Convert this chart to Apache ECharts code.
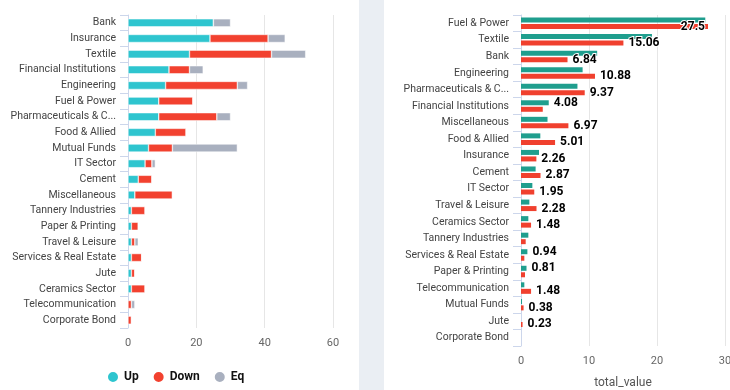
<!DOCTYPE html>
<html><head><meta charset="utf-8">
<script src="https://cdn.jsdelivr.net/npm/echarts@6/dist/echarts.min.js"></script>
<style>html,body{margin:0;padding:0;background:#fff}#c{width:730px;height:390px}</style>
</head><body><div id="c"></div>
<script>
// Left chart: count of Up / Down / Eq by sector
var leftCategories = ['Bank','Insurance','Textile','Financial Institutions','Engineering','Fuel & Power','Pharmaceuticals & Chemicals','Food & Allied','Mutual Funds','IT Sector','Cement','Miscellaneous','Tannery Industries','Paper & Printing','Travel & Leisure','Services & Real Estate','Jute','Ceramics Sector','Telecommunication','Corporate Bond'];
var upValues   = [25,24,18,12,11,9,9,8,6,5,3,2,1,1,1,1,1,1,0,0];
var downValues = [0,17,24,6,21,10,17,9,7,2,4,11,4,2,1,3,1,4,1,1];
var eqValues   = [5,5,10,4,3,0,4,0,19,1,0,0,0,0,1,0,0,0,1,0];
var leftTicks = [0,20,40,60];

// Right chart: total_value by sector
var rightCategories = ['Fuel & Power','Textile','Bank','Engineering','Pharmaceuticals & Chemicals','Financial Institutions','Miscellaneous','Food & Allied','Insurance','Cement','IT Sector','Travel & Leisure','Ceramics Sector','Tannery Industries','Services & Real Estate','Paper & Printing','Telecommunication','Mutual Funds','Jute','Corporate Bond'];
var tealValues = [27.1,19.26,11.2,9.06,8.3,4.08,3.9,2.84,2.65,2.15,1.67,1.23,1.08,1.08,0.94,0.81,0.49,0.15,0,0];
var redValues  = [27.5,15.06,6.84,10.88,9.37,3.2,6.97,5.01,2.26,2.87,1.95,2.28,1.48,0.69,0.49,0.59,1.48,0.38,0.23,0];
var tealLabelled = ['Financial Institutions','Services & Real Estate','Paper & Printing'];
var redUnlabelled = ['Financial Institutions','Tannery Industries','Services & Real Estate','Paper & Printing','Corporate Bond'];
var redInsideLabel = ['Fuel & Power'];
var rightTicks = [0,10,20,30];

var FONT = 'Roboto';
function trunc(v){ return v.length > 22 ? v.slice(0,19) + '...' : v; }

var labelBase = {fontFamily: FONT, fontSize: 12, fontWeight: 'bold', color: '#000', textBorderColor: '#fff', textBorderWidth: 2, distance: 5};

var tealData = tealValues.map(function(v,i){
  var show = tealLabelled.indexOf(rightCategories[i]) >= 0;
  return {value: v, label: {show: show}};
});
var redData = redValues.map(function(v,i){
  var c = rightCategories[i];
  var show = redUnlabelled.indexOf(c) < 0;
  var o = {value: v, label: {show: show}};
  if (redInsideLabel.indexOf(c) >= 0) { o.label.position = 'insideRight'; o.label.distance = 3; }
  return o;
});

var catAxisCommon = {
  type: 'category', inverse: true,
  axisLine: {show: true, lineStyle: {color: '#ccd6eb'}},
  axisTick: {show: true, length: 8, lineStyle: {color: '#ccd6eb'}},
  axisLabel: {fontFamily: FONT, fontSize: 10.5, color: '#444', margin: 12, formatter: trunc}
};
var valAxisCommon = {
  type: 'value',
  axisLine: {show: false}, axisTick: {show: false},
  splitLine: {lineStyle: {color: '#e6e6e6'}},
  axisLabel: {fontFamily: FONT, fontSize: 11, color: '#666', margin: 10}
};

var chart = echarts.init(document.getElementById('c'), null, {renderer: 'canvas'});
chart.setOption({
  animation: false,
  backgroundColor: '#fff',
  graphic: [{type: 'rect', shape: {x: 359, y: 0, width: 25, height: 390}, style: {fill: '#eaeef3'}, z: -1}],
  legend: {
    data: ['Up','Down','Eq'], left: 101, top: 365, icon: 'circle', itemWidth: 12, itemHeight: 12, itemGap: 13,
    textStyle: {fontFamily: FONT, fontSize: 12, fontWeight: 'bold', color: '#111'}
  },
  grid: [
    {left: 128, width: 205, top: 15, height: 313, outerBoundsMode: 'none', containLabel: false},
    {left: 521, width: 204, top: 15, height: 331, outerBoundsMode: 'none', containLabel: false}
  ],
  xAxis: [
    Object.assign({}, valAxisCommon, {gridIndex: 0, min: leftTicks[0], max: leftTicks[leftTicks.length-1], interval: 20}),
    Object.assign({}, valAxisCommon, {gridIndex: 1, min: rightTicks[0], max: rightTicks[rightTicks.length-1], interval: 10,
      name: 'total_value', nameLocation: 'middle', nameGap: 31, nameTextStyle: {fontFamily: FONT, fontSize: 12, color: '#555'}})
  ],
  yAxis: [
    Object.assign({}, catAxisCommon, {gridIndex: 0, data: leftCategories}),
    Object.assign({}, catAxisCommon, {gridIndex: 1, data: rightCategories})
  ],
  series: [
    {name: 'Up', type: 'bar', stack: 'a', xAxisIndex: 0, yAxisIndex: 0, data: upValues, barWidth: 8, itemStyle: {color: '#2ec5cf', borderColor: '#fff', borderWidth: 0.5}},
    {name: 'Down', type: 'bar', stack: 'a', xAxisIndex: 0, yAxisIndex: 0, data: downValues, barWidth: 8, itemStyle: {color: '#f2412f', borderColor: '#fff', borderWidth: 0.5}},
    {name: 'Eq', type: 'bar', stack: 'a', xAxisIndex: 0, yAxisIndex: 0, data: eqValues, barWidth: 8, itemStyle: {color: '#a9b0bf', borderColor: '#fff', borderWidth: 0.5}},
    {name: 'teal', type: 'bar', xAxisIndex: 1, yAxisIndex: 1, data: tealData, barWidth: 5, barGap: '30%', itemStyle: {color: '#1f9e8e'},
      label: Object.assign({position: 'right'}, labelBase)},
    {name: 'red', type: 'bar', xAxisIndex: 1, yAxisIndex: 1, data: redData, barWidth: 5, barGap: '30%', itemStyle: {color: '#f0402e'},
      label: Object.assign({position: 'right'}, labelBase)}
  ]
});
</script></body></html>
